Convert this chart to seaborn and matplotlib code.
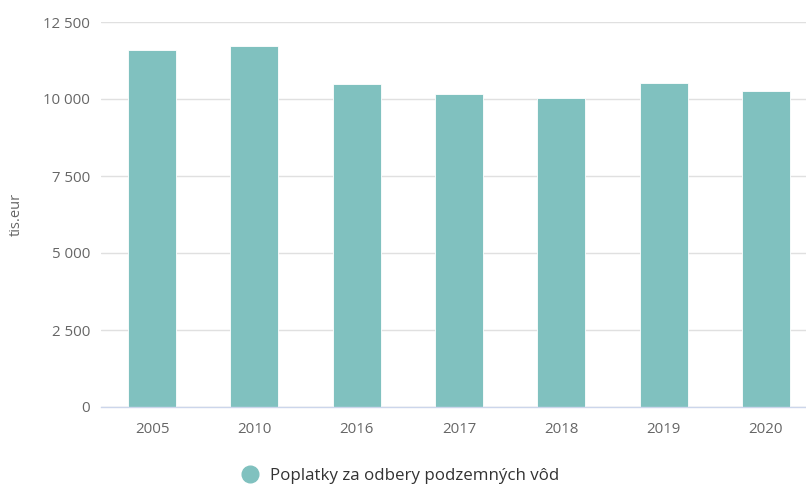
import matplotlib
matplotlib.use("Agg")
import matplotlib.pyplot as plt
import seaborn as sns
import pandas as pd
from matplotlib.ticker import FuncFormatter, FixedLocator
from matplotlib.lines import Line2D

years = ["2005", "2010", "2016", "2017", "2018", "2019", "2020"]
values = [11590, 11720, 10490, 10160, 10020, 10530, 10260]
series_name = "Poplatky za odbery podzemných vôd"
y_label = "tis.eur"
y_ticks = [0, 2500, 5000, 7500, 10000, 12500]

sns.set_theme(style="white")
plt.rcParams['font.family'] = ['Open Sans', 'DejaVu Sans']

df = pd.DataFrame({"year": years, "value": values})

fig = plt.figure(figsize=(8.06, 4.84), dpi=100)
ax = fig.add_axes([101/806, 77/484, 716/806, 385/484])

bar_color = "#80c1bf"
sns.barplot(data=df, x="year", y="value", color=bar_color, width=0.47,
            saturation=1, ax=ax, edgecolor="white", linewidth=0.6)

ax.set_ylim(0, 12500)
ax.set_xlim(-0.5, len(years) - 0.5)
ax.yaxis.set_major_locator(FixedLocator(y_ticks))
ax.yaxis.set_major_formatter(FuncFormatter(lambda v, p: f"{int(v):,}".replace(",", " ")))
ax.grid(axis="y", color="#e0e0e0", linewidth=1)
ax.set_axisbelow(True)
for s in ["top", "right", "left"]:
    ax.spines[s].set_visible(False)
ax.spines["bottom"].set_color("#ccd6eb")
ax.spines["bottom"].set_linewidth(1)
ax.tick_params(axis="both", length=0, labelsize=10.8, colors="#666666")
ax.tick_params(axis="y", pad=8)
ax.tick_params(axis="x", pad=11)
ax.set_xlabel("")
ax.set_ylabel(y_label, fontsize=10.5, color="#666666", labelpad=14)

handle = Line2D([], [], marker="o", linestyle="", markersize=12,
                markerfacecolor=bar_color, markeredgecolor=bar_color)
fig.legend([handle], [series_name], loc="center", bbox_to_anchor=(396/806, 1 - 476/484),
           frameon=False, fontsize=12.2, handletextpad=0.2, labelcolor="#333333")

fig.savefig("out.png", dpi=100)
